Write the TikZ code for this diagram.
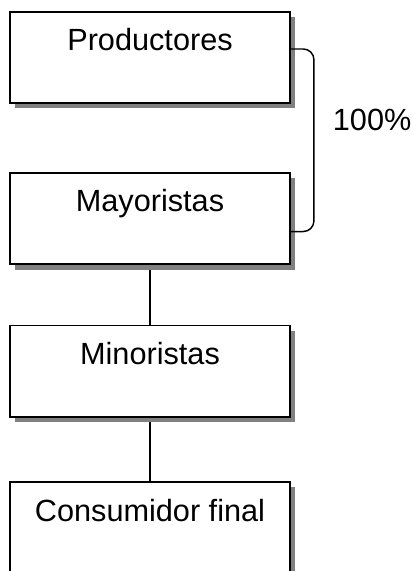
\documentclass[tikz,border=0pt]{standalone}
\usepackage{fontspec}
\setmainfont{Liberation Sans}
\usetikzlibrary{positioning,shadows,backgrounds}

\begin{document}
\begin{tikzpicture}[
  node distance=47.5pt,
  canal/.style={draw,fill=white,line width=1.4pt,rectangle,
    minimum width=210pt,inner xsep=0pt,inner ysep=0pt,
    text height=29.2pt,text depth=39.4pt,align=center,
    font=\fontsize{23}{27}\selectfont,
    drop shadow={shadow xshift=3.9pt,shadow yshift=-3.9pt,fill=black!50,opacity=1}},
  enlace/.style={line width=1.1pt}
]
\useasboundingbox (0,0) rectangle (309.75pt,428.25pt);

\node[canal] (prod) at (112.5pt,385.1pt) {Productores};
\node[canal,below=50.8pt of prod] (may) {Mayoristas};
\node[canal,below=44.5pt of may] (min) {Minoristas};
\node[canal,below=of min] (cons) {Consumidor final};

\begin{scope}[on background layer]
\draw[enlace] (may) -- (min);
\draw[enlace] (min) -- (cons);
\end{scope}

\draw[enlace,rounded corners=8pt] ([yshift=6.4pt]prod.east) -- ++(17.25pt,0)
  |- ([yshift=-9.7pt]may.east);
\node[anchor=base west,inner sep=0pt,font=\fontsize{23}{27}\selectfont]
  (pct) at (249.5pt,330pt) {100\%};

\end{tikzpicture}
\end{document}
